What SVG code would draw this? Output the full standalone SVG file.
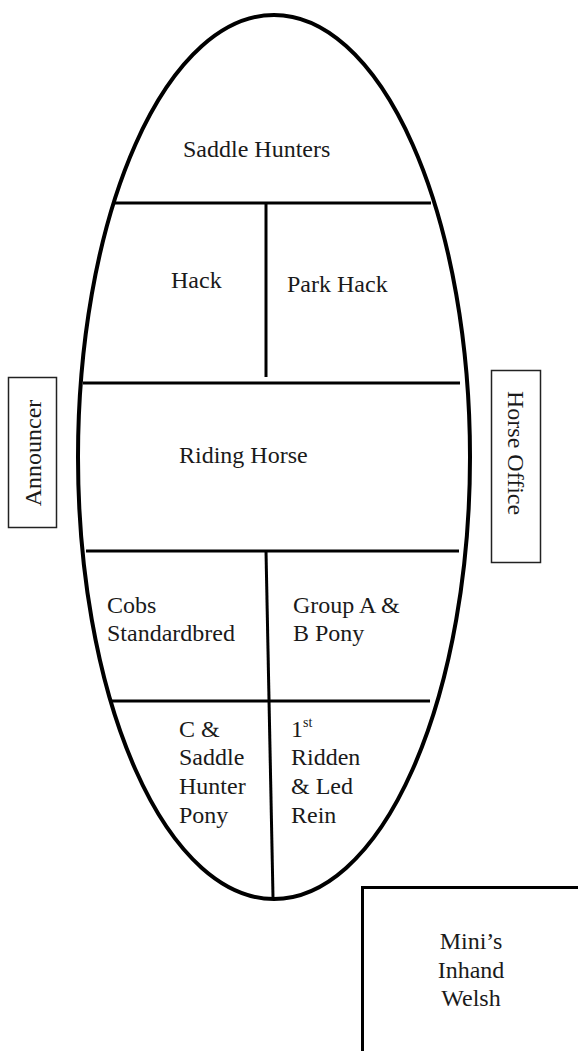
<svg xmlns="http://www.w3.org/2000/svg" width="578" height="1051" viewBox="0 0 578 1051">
<style>
text{font-family:"Liberation Serif","Times New Roman",serif;font-size:24px;fill:#1a1a1a}
.div{stroke:#000;stroke-width:3;fill:none}
.box{fill:#fff;stroke:#222;stroke-width:1.5}
</style>
<rect width="578" height="1051" fill="#fff"/>
<g id="arena">
<ellipse cx="274" cy="457" rx="196" ry="442" fill="none" stroke="#000" stroke-width="4"/>
</g>
<g id="connectors">
<line class="div" x1="115" y1="203" x2="431" y2="203"/>
<line class="div" x1="266" y1="203" x2="266" y2="377"/>
<line class="div" x1="83" y1="383" x2="460" y2="383"/>
<line class="div" x1="86" y1="551" x2="459" y2="551"/>
<line class="div" x1="266" y1="551" x2="273" y2="897"/>
<line class="div" x1="112" y1="701" x2="430" y2="701"/>
</g>
<g id="saddle-hunters"><text x="183" y="157">Saddle Hunters</text></g>
<g id="hack"><text x="171" y="288">Hack</text></g>
<g id="park-hack"><text x="287" y="292">Park Hack</text></g>
<g id="riding-horse"><text x="179" y="463">Riding Horse</text></g>
<g id="cobs"><text x="107" y="613">Cobs</text><text x="107" y="641">Standardbred</text></g>
<g id="group-ab"><text x="293" y="613">Group A &amp;</text><text x="293" y="641">B Pony</text></g>
<g id="c-saddle-hunter-pony"><text x="179" y="737">C &amp;</text><text x="179" y="765">Saddle</text><text x="179" y="794">Hunter</text><text x="179" y="823">Pony</text></g>
<g id="first-ridden"><text x="291" y="737">1<tspan font-size="14" dy="-10">st</tspan></text><text x="291" y="765">Ridden</text><text x="291" y="794">&amp; Led</text><text x="291" y="823">Rein</text></g>
<g id="announcer">
<rect class="box" x="8.5" y="377.5" width="48" height="150"/>
<text transform="translate(41,453) rotate(-90)" text-anchor="middle">Announcer</text>
</g>
<g id="horse-office">
<rect class="box" x="491.5" y="370.5" width="49" height="192"/>
<text transform="translate(508,391) rotate(90)">Horse Office</text>
</g>
<g id="minis">
<rect x="362.5" y="887.5" width="300" height="300" fill="#fff" stroke="#000" stroke-width="3"/>
<text x="471" y="949" text-anchor="middle">Mini’s</text>
<text x="471" y="978" text-anchor="middle">Inhand</text>
<text x="471" y="1006" text-anchor="middle">Welsh</text>
</g>
</svg>
